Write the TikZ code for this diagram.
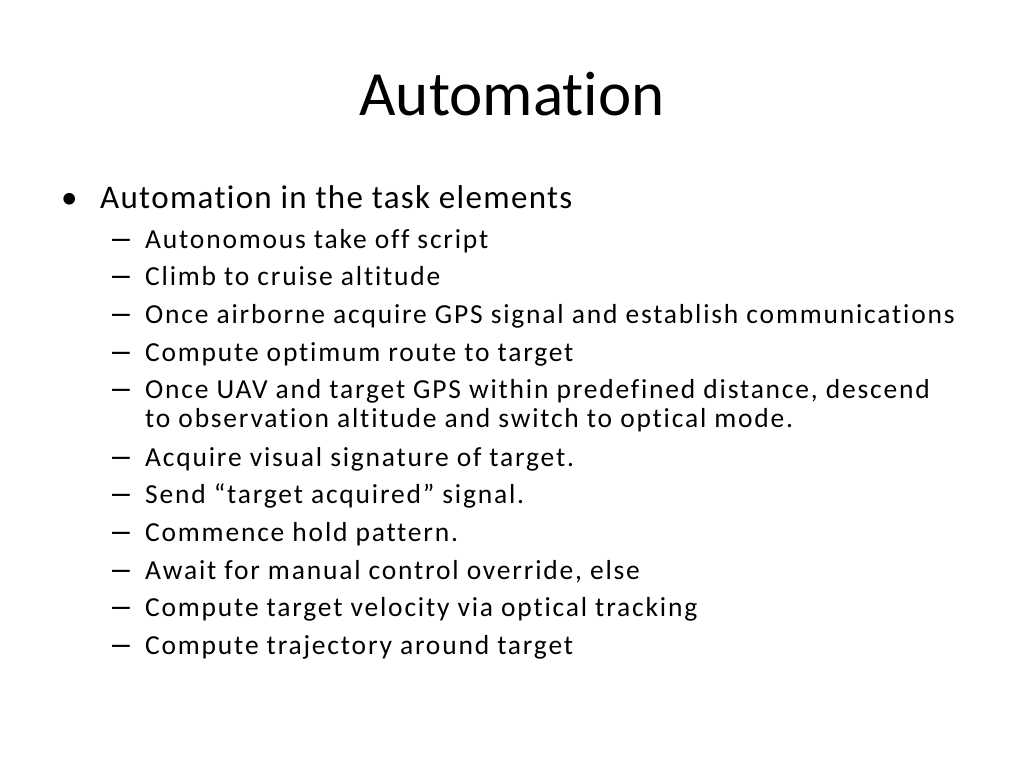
\documentclass[tikz,border=0pt]{standalone}
\usepackage{fontspec}
\setmainfont{Carlito}[Ligatures=NoCommon]
\newfontfamily\lonefont{Carlito}[Ligatures=NoCommon,LetterSpace=4.0]
\newfontfamily\ltwofont{Carlito}[Ligatures=NoCommon,LetterSpace=6.6]
\newfontfamily\dashfont{Liberation Sans}
\begin{document}
\begin{tikzpicture}[x=1pt,y=-1pt,
  title/.style={anchor=base,inner sep=0pt,font=\fontsize{63}{63}\selectfont},
  lone/.style={anchor=base west,inner sep=0pt,font=\lonefont\fontsize{33}{33}\selectfont},
  ltwo/.style={anchor=base west,inner sep=0pt,font=\ltwofont\fontsize{27.5}{27.5}\selectfont},
  mark1/.style={anchor=base west,inner sep=0pt,font=\fontsize{33}{33}\selectfont},
  mark2/.style={anchor=base west,inner sep=0pt,font=\dashfont\fontsize{32}{32}\selectfont}]
\useasboundingbox[fill=white] (0,0) rectangle (1024,768);
\node[title] (t) at (512,115) {Automation};
\node[mark1] (b0) at (61,208) {•};
\node[lone] (l0) at (100,208) {Automation in the task elements};
\foreach \i/\y/\txt in {1/248/Autonomous take off script,
  2/285.5/Climb to cruise altitude,
  3/323/Once airborne acquire GPS signal and establish communications,
  4/361/Compute optimum route to target,
  5/398.5/{Once UAV and target GPS within predefined distance, descend},
  6/466/Acquire visual signature of target.,
  7/503.5/Send “target acquired” signal.,
  8/541/Commence hold pattern.,
  9/579/{Await for manual control override, else},
  10/616.5/Compute target velocity via optical tracking,
  11/654/Compute trajectory around target}{
  \node[mark2] (d\i) at (112,\y) {–};
  \node[ltwo] (s\i) at (145,\y) {\txt};
}
\node[ltwo] (s5b) at (145,427.5) {to observation altitude and switch to optical mode.};
\end{tikzpicture}
\end{document}
